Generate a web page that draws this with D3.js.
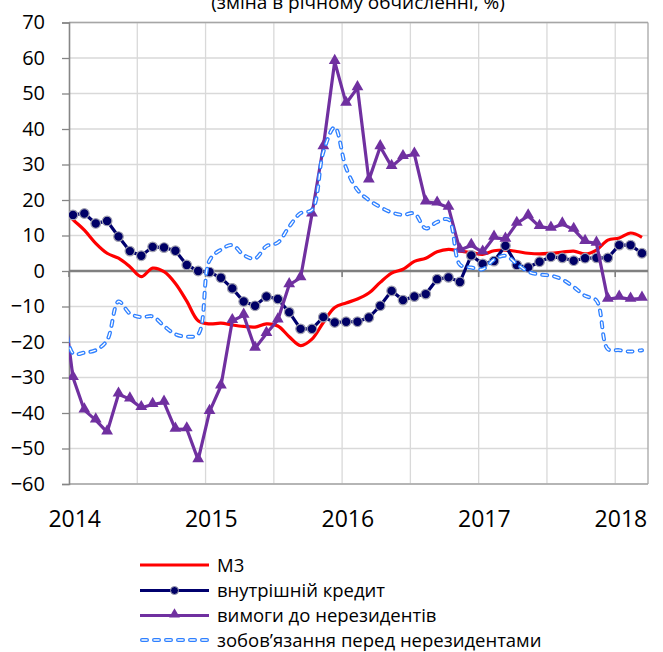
<!DOCTYPE html>
<html><head><meta charset="utf-8">
<script src="https://cdn.jsdelivr.net/npm/d3@7"></script>
<style>
html,body{margin:0;padding:0;background:#fff;}
svg{display:block;font-family:"Open Sans",sans-serif;}
</style></head>
<body>
<svg id="chart" width="663" height="652"></svg>
<script>
// Categories: monthly, Dec 2013 .. Mar 2018 (first point lies just outside the plot area)
const months = ["2013-12",
 "2014-01","2014-02","2014-03","2014-04","2014-05","2014-06","2014-07","2014-08","2014-09","2014-10","2014-11","2014-12",
 "2015-01","2015-02","2015-03","2015-04","2015-05","2015-06","2015-07","2015-08","2015-09","2015-10","2015-11","2015-12",
 "2016-01","2016-02","2016-03","2016-04","2016-05","2016-06","2016-07","2016-08","2016-09","2016-10","2016-11","2016-12",
 "2017-01","2017-02","2017-03","2017-04","2017-05","2017-06","2017-07","2017-08","2017-09","2017-10","2017-11","2017-12",
 "2018-01","2018-02","2018-03"];

const m3 = [18,
 14.5, 11.5, 7.8, 5.0, 3.6, 1.2, -1.6, 0.8, -0.2, -3.5, -8.5, -14.0,
 -14.9, -14.7, -15.2, -15.6, -15.8, -14.9, -15.5, -18.5, -21.0, -19.2, -14.5, -10.3,
 -9.0, -7.9, -6.2, -3.2, -0.6, 0.5, 2.7, 3.6, 5.4, 6.1, 5.6, 5.2,
 4.7, 5.7, 5.9, 5.5, 5.0, 4.8, 5.0, 5.3, 5.6, 4.8, 5.9, 8.7,
 9.3, 10.7, 9.5];

const domesticCredit = [16,
 15.8, 16.2, 13.4, 14.1, 9.7, 5.6, 4.3, 6.8, 6.6, 5.7, 1.7, 0.0,
 -0.3, -1.9, -4.9, -8.6, -9.8, -7.2, -7.9, -11.6, -16.3, -16.3, -13.0, -14.5,
 -14.3, -14.3, -13.1, -9.8, -5.6, -8.2, -7.2, -6.5, -2.3, -1.8, -3.1, 4.4,
 2.0, 2.8, 7.1, 1.7, 1.0, 2.6, 4.0, 3.7, 2.9, 3.6, 3.7, 3.7,
 7.3, 7.3, 5.0];

const claimsNonRes = [-5,
 -30.0, -39.2, -42.0, -45.4, -34.7, -36.1, -38.5, -37.6, -37.0, -44.6, -44.5, -53.2,
 -39.6, -32.4, -14.0, -12.5, -21.8, -17.6, -13.8, -3.9, -1.9, 16.0, 35.0, 59.0,
 47.2, 51.6, 25.6, 35.0, 29.4, 32.2, 32.9, 19.4, 19.1, 17.9, 5.9, 7.2,
 5.3, 9.5, 8.9, 13.4, 15.5, 12.5, 12.0, 13.2, 11.7, 8.3, 7.8, -8.0,
 -7.4, -8.0, -7.7];

const liabNonRes = [-5,
 -23.2, -23.0, -22.3, -19.5, -8.6, -12.0, -13.0, -12.8, -15.5, -17.8, -18.5, -17.8,
 3.0, 6.0, 7.3, 4.5, 3.5, 7.0, 8.0, 12.5, 16.3, 17.2, 33.5, 40.5,
 29.0, 22.8, 20.0, 18.0, 16.5, 15.8, 16.2, 12.0, 13.8, 14.5, 1.8, 1.0,
 0.5, 3.2, 4.3, 2.0, -0.2, -1.0, -1.3, -2.4, -4.5, -7.0, -8.3, -22.0,
 -22.3, -22.7, -22.3];

const yearLabels = ["2014","2015","2016","2017","2018"];
const yearMonths = ["2014-01","2015-01","2016-01","2017-01","2018-01"];
const yTicks = [-60,-50,-40,-30,-20,-10,0,10,20,30,40,50,60,70];
const seriesNames = ["М3","внутрішній кредит","вимоги до нерезидентів","зобов’язання перед нерезидентами"];
const title = "(зміна в річному обчисленні, %)";

const svg = d3.select("#chart");
const L = 69, R = 648, T = 22.5, B = 484;
const x = d3.scaleLinear().domain([0.65, 51.53]).range([L, R]);
const y = d3.scaleLinear().domain([-60, 70]).range([B, T]);

// title (partially cut at top, as in the source)
svg.append("text").attr("x", 358).attr("y", 9).attr("text-anchor","middle")
  .attr("font-size", 19).attr("fill","#000").text(title);

// horizontal gridlines
svg.append("g").selectAll("line").data(yTicks).join("line")
  .attr("x1", L).attr("x2", R).attr("y1", d=>y(d)).attr("y2", d=>y(d))
  .attr("stroke","#d9d9d9").attr("stroke-width",1.3);
// vertical gridlines every 6 months
const vg = d3.range(0.65, 51.5, 6);
svg.append("g").selectAll("line").data(vg.slice(1)).join("line")
  .attr("x1", d=>x(d)).attr("x2", d=>x(d)).attr("y1", T).attr("y2", B)
  .attr("stroke","#d9d9d9").attr("stroke-width",1.3);

// border
svg.append("line").attr("x1",L).attr("x2",R).attr("y1",T).attr("y2",T).attr("stroke","#a6a6a6").attr("stroke-width",1.3);
svg.append("line").attr("x1",R).attr("x2",R).attr("y1",T).attr("y2",B).attr("stroke","#a6a6a6").attr("stroke-width",1.3);
svg.append("line").attr("x1",L).attr("x2",R).attr("y1",B).attr("y2",B).attr("stroke","#a6a6a6").attr("stroke-width",1.3);

// y axis
const yAxis = d3.axisLeft(y).tickValues(yTicks).tickSize(7).tickPadding(17).tickFormat(d3.format("d"));
const ga = svg.append("g").attr("transform",`translate(${L},0)`).call(yAxis);
ga.select(".domain").attr("stroke","#868686").attr("stroke-width",1.6);
ga.selectAll(".tick line").attr("stroke","#868686").attr("stroke-width",1.3);
ga.selectAll(".tick text").attr("font-size",20).attr("fill","#000").attr("font-family","Open Sans");

// zero line with year ticks
svg.append("line").attr("x1",L).attr("x2",R).attr("y1",y(0)).attr("y2",y(0)).attr("stroke","#808080").attr("stroke-width",2.4);
const yt = d3.range(0.65, 51.5, 12);
svg.append("g").selectAll("line").data(yt).join("line")
  .attr("x1", d=>x(d)).attr("x2", d=>x(d)).attr("y1", y(0)).attr("y2", y(0)+6)
  .attr("stroke","#808080").attr("stroke-width",1.6);

// year labels
svg.append("g").selectAll("text").data(yearLabels).join("text")
  .attr("x",(d,i)=>x(months.indexOf(yearMonths[i])+0.15)).attr("y",527)
  .attr("text-anchor","middle").attr("font-size",23).attr("fill","#000").text(d=>d);

// clip
svg.append("clipPath").attr("id","clip").append("rect").attr("x",L).attr("y",T-5).attr("width",R-L).attr("height",B-T+10);
const plot = svg.append("g").attr("clip-path","url(#clip)");

const smooth = d3.line().x((d,i)=>x(i)).y(d=>y(d)).curve(d3.curveCatmullRom.alpha(0.5));
const straight = d3.line().x((d,i)=>x(i)).y(d=>y(d));

// M3
plot.append("path").attr("d", smooth(m3)).attr("fill","none").attr("stroke","#ff0000").attr("stroke-width",3.2);

// domestic credit
plot.append("path").attr("d", straight(domesticCredit)).attr("fill","none").attr("stroke","#00006e").attr("stroke-width",3.2);
plot.append("g").selectAll("circle").data(domesticCredit).join("circle")
  .attr("cx",(d,i)=>x(i)).attr("cy",d=>y(d)).attr("r",4.8)
  .attr("fill","#000066").attr("stroke","#a0a0b0").attr("stroke-width",1.2);

// claims on non-residents
plot.append("path").attr("d", straight(claimsNonRes)).attr("fill","none").attr("stroke","#7030a0").attr("stroke-width",3.2).attr("stroke-linejoin","round");
const tri = d3.symbol().type(d3.symbolTriangle).size(60);
plot.append("g").selectAll("path").data(claimsNonRes).join("path")
  .attr("d", tri).attr("transform",(d,i)=>`translate(${x(i)},${y(d)-1})`)
  .attr("fill","#7030a0");

// liabilities to non-residents (double dashed)
const ld = smooth(liabNonRes);
plot.append("path").attr("d", ld).attr("fill","none").attr("stroke","#2f80ff").attr("stroke-width",4)
  .attr("stroke-dasharray","5,7").attr("stroke-linecap","round");
plot.append("path").attr("d", ld).attr("fill","none").attr("stroke","#ffffff").attr("stroke-width",1.4)
  .attr("stroke-dasharray","5,7").attr("stroke-linecap","round");

// legend
const lg = svg.append("g");
const rowsY = [565, 590.5, 615.5, 640];
seriesNames.forEach((name,i)=>{
  const yy = rowsY[i];
  if (i===0) {
    lg.append("line").attr("x1",140).attr("x2",209).attr("y1",yy).attr("y2",yy).attr("stroke","#ff0000").attr("stroke-width",3.2);
  } else if (i===1) {
    lg.append("line").attr("x1",140).attr("x2",209).attr("y1",yy).attr("y2",yy).attr("stroke","#00006e").attr("stroke-width",3.2);
    lg.append("circle").attr("cx",174.5).attr("cy",yy).attr("r",4).attr("fill","#000066").attr("stroke","#a0a0b0").attr("stroke-width",1);
  } else if (i===2) {
    lg.append("line").attr("x1",140).attr("x2",209).attr("y1",yy).attr("y2",yy).attr("stroke","#7030a0").attr("stroke-width",3.2);
    lg.append("path").attr("d",d3.symbol().type(d3.symbolTriangle).size(50)).attr("transform",`translate(174.5,${yy-1})`).attr("fill","#7030a0");
  } else {
    lg.append("line").attr("x1",142).attr("x2",208).attr("y1",yy).attr("y2",yy).attr("stroke","#2f80ff").attr("stroke-width",4)
      .attr("stroke-dasharray","5,7").attr("stroke-linecap","round");
    lg.append("line").attr("x1",142).attr("x2",208).attr("y1",yy).attr("y2",yy).attr("stroke","#fff").attr("stroke-width",1.4)
      .attr("stroke-dasharray","5,7").attr("stroke-linecap","round");
  }
  lg.append("text").attr("x",217).attr("y",yy+6.5).attr("font-size",18.5).attr("fill","#000").text(name);
});
</script>
</body></html>
